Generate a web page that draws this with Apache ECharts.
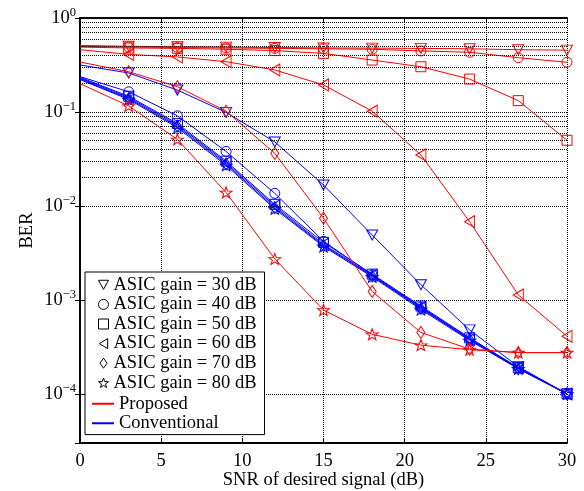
<!DOCTYPE html>
<html>
<head>
<meta charset="utf-8">
<script src="https://cdn.jsdelivr.net/npm/echarts@6/dist/echarts.min.js"></script>
<style>
  html, body { margin: 0; padding: 0; background: #fff; }
  #chart { width: 584px; height: 491px; }
</style>
</head>
<body>
<div id="chart"></div>
<script>
// SNR of the desired signal (dB)
const snr = [0, 3, 6, 9, 12, 15, 18, 21, 24, 27, 30];

const gainNames = [
  'ASIC gain = 30 dB', 'ASIC gain = 40 dB', 'ASIC gain = 50 dB',
  'ASIC gain = 60 dB', 'ASIC gain = 70 dB', 'ASIC gain = 80 dB'
];

// BER of the proposed scheme, one array per ASIC gain
const proposed30 = [0.51, 0.50, 0.495, 0.49, 0.485, 0.48, 0.478, 0.475, 0.47, 0.46, 0.455];
const proposed40 = [0.50, 0.49, 0.485, 0.48, 0.475, 0.47, 0.465, 0.446, 0.432, 0.378, 0.338];
const proposed50 = [0.49, 0.48, 0.475, 0.465, 0.45, 0.42, 0.357, 0.303, 0.224, 0.132, 0.050];
const proposed60 = [0.46, 0.41, 0.385, 0.343, 0.28, 0.194, 0.102, 0.0349, 0.0068, 0.00113, 0.00041];
const proposed70 = [0.34, 0.268, 0.186, 0.102, 0.0363, 0.0074, 0.00123, 0.00045, 0.0003, 0.000275, 0.000275];
const proposed80 = [0.20, 0.116, 0.051, 0.0139, 0.00273, 0.00078, 0.00043, 0.00033, 0.000295, 0.000275, 0.000275];

// BER of the conventional scheme, one array per ASIC gain
const conventional30 = [0.316, 0.26, 0.171, 0.099, 0.048, 0.0167, 0.0049, 0.00145, 0.00048, 0.000195, 0.0001];
const conventional40 = [0.238, 0.164, 0.091, 0.038, 0.0136, 0.0042, 0.00185, 0.00084, 0.00039, 0.00019, 0.0001];
const conventional50 = [0.234, 0.147, 0.0755, 0.0300, 0.0104, 0.0041, 0.00188, 0.00086, 0.000395, 0.00019, 0.0001];
const conventional60 = [0.229, 0.143, 0.073, 0.0290, 0.0100, 0.0039, 0.00183, 0.00083, 0.00038, 0.00019, 0.0001];
const conventional70 = [0.225, 0.139, 0.0705, 0.0280, 0.0096, 0.0038, 0.0018, 0.00081, 0.00038, 0.000185, 0.0001];
const conventional80 = [0.221, 0.136, 0.068, 0.0270, 0.0093, 0.0037, 0.00176, 0.00079, 0.00037, 0.000185, 0.0001];

const xTicks = [0, 5, 10, 15, 20, 25, 30];
const yDecades = [1e-4, 1e-3, 1e-2, 1e-1, 1];

const proposedSets = [proposed30, proposed40, proposed50, proposed60, proposed70, proposed80];
const conventionalSets = [conventional30, conventional40, conventional50, conventional60, conventional70, conventional80];

// marker shapes, one per ASIC gain
const STAR = 'path://M50,0L61.76,33.82L97.55,34.55L69.02,56.18L79.39,90.45L50,70L20.61,90.45L30.98,56.18L2.45,34.55L38.24,33.82Z';
const markers = [
  { symbol: 'path://M0,0L22,0L11,20Z', size: [11, 10] },   // down triangle
  { symbol: 'circle', size: 10 },
  { symbol: 'rect', size: 10 },
  { symbol: 'path://M0,12L20,0L20,24Z', size: [10, 12] },  // left triangle
  { symbol: 'diamond', size: [8, 12] },
  { symbol: STAR, size: [12, 11] }
];

const RED = '#ff0000';
const BLUE = '#0000ff';
const FONT = 'Liberation Serif';
const FS = 18.5;

function curve(name, values, color, m) {
  return {
    name: name,
    type: 'line',
    data: snr.map((x, i) => [x, values[i]]),
    symbol: (v, p) => (p.dataIndex === 0 ? 'none' : m.symbol),
    symbolSize: m.size,
    showAllSymbol: true,
    lineStyle: { color: color, width: 1 },
    itemStyle: { color: 'rgba(0,0,0,0)', borderColor: color, borderWidth: 1 },
    emphasis: { disabled: true },
    silent: true,
    z: 3
  };
}

const series = [];

// minor grid lines at 2..9 x 10^n
const minorLines = [];
for (let e = -5; e <= -1; e++) {
  for (let k = 2; k <= 9; k++) {
    const v = k * Math.pow(10, e);
    if (v > 3e-5 && v < 1) minorLines.push({ yAxis: v });
  }
}
series.push({
  type: 'line',
  data: [],
  silent: true,
  markLine: {
    silent: true,
    symbol: ['none', 'none'],
    label: { show: false },
    lineStyle: { color: '#000', width: 1, type: [1, 1] },
    emphasis: { disabled: true },
    data: minorLines
  },
  z: 1
});

conventionalSets.forEach((vals, i) => series.push(curve('c' + i, vals, BLUE, markers[i])));
proposedSets.forEach((vals, i) => series.push(curve('p' + i, vals, RED, markers[i])));

// legend-only series
gainNames.forEach((n, i) => series.push({
  name: n, type: 'line', data: [], symbol: markers[i].symbol,
  itemStyle: { color: 'rgba(0,0,0,0)', borderColor: '#000', borderWidth: 1 }
}));
series.push({ name: 'Proposed', type: 'line', data: [], itemStyle: { color: RED }, lineStyle: { color: RED } });
series.push({ name: 'Conventional', type: 'line', data: [], itemStyle: { color: BLUE }, lineStyle: { color: BLUE } });

const legendIcons = [
  'path://M0,0L22,0L11,20Z',
  'circle',
  'rect',
  'path://M0,12L20,0L20,24Z',
  'path://M5,0L10,7L5,14L0,7Z',
  STAR
];

function powLabel(v) {
  const e = Math.round(Math.log10(v));
  if (Math.abs(Math.log10(v) - e) > 1e-6) return '';
  return '{b|10}{s|' + (e < 0 ? '\u2212' + (-e) : e) + '}';
}

const axisLine = { show: true, lineStyle: { color: '#000', width: 2 } };
const tick = { show: true, inside: true, length: 5, lineStyle: { color: '#000', width: 1 } };
const dotted = { show: true, lineStyle: { color: '#000', width: 1, type: [1, 1] } };

const option = {
  backgroundColor: '#fff',
  animation: false,
  grid: { left: 80, right: 17, top: 18, bottom: 48, containLabel: false, outerBoundsMode: 'none' },
  xAxis: [{
    type: 'value', min: 0, max: 30, interval: 5,
    name: 'SNR of desired signal (dB)', nameLocation: 'middle', nameGap: 28,
    nameMoveOverlap: false,
    nameTextStyle: { fontFamily: FONT, fontSize: FS, color: '#000' },
    axisLine: axisLine, axisTick: tick,
    axisLabel: { fontFamily: FONT, fontSize: FS, color: '#000', margin: 9,
      formatter: v => (xTicks.indexOf(v) >= 0 ? String(v) : '') },
    splitLine: dotted
  }, {
    type: 'value', min: 0, max: 30, interval: 5, position: 'top',
    axisLine: axisLine, axisTick: tick, axisLabel: { show: false }, splitLine: { show: false }
  }],
  yAxis: [{
    type: 'log', logBase: 10, min: 3e-5, max: 1,
    name: 'BER', nameLocation: 'middle', nameGap: 43,
    nameMoveOverlap: false,
    nameTextStyle: { fontFamily: FONT, fontSize: FS, color: '#000' },
    axisLine: axisLine, axisTick: tick,
    axisLabel: {
      margin: 4,
      formatter: v => (yDecades.some(d => Math.abs(d - v) / d < 1e-6) ? powLabel(v) : ''),
      rich: {
        b: { fontFamily: FONT, fontSize: FS, color: '#000' },
        s: { fontFamily: FONT, fontSize: 12.5, color: '#000', padding: [0, 0, 11, 0] }
      }
    },
    splitLine: dotted
  }, {
    type: 'log', logBase: 10, min: 3e-5, max: 1, position: 'right',
    axisLine: axisLine, axisTick: tick, axisLabel: { show: false }, splitLine: { show: false }
  }],
  legend: [{
    orient: 'vertical', left: 85, top: 272,
    padding: [3, 8, 42, 13],
    itemGap: 0, itemWidth: 10, itemHeight: 10,
    backgroundColor: '#fff', borderColor: '#000', borderWidth: 1,
    selectedMode: false,
    textStyle: { fontFamily: FONT, fontSize: FS, color: '#000', lineHeight: 19.6 },
    data: gainNames.map((n, i) => ({
      name: n, icon: legendIcons[i],
      itemStyle: { color: 'rgba(0,0,0,0)', borderColor: '#000', borderWidth: 1 }
    })),
    z: 10
  }, {
    orient: 'vertical', left: 92, top: 394, padding: 0,
    itemGap: 0, itemWidth: 22, itemHeight: 2,
    selectedMode: false,
    textStyle: { fontFamily: FONT, fontSize: FS, color: '#000', lineHeight: 19.5 },
    data: [
      { name: 'Proposed', icon: 'rect', itemStyle: { color: RED } },
      { name: 'Conventional', icon: 'rect', itemStyle: { color: BLUE } }
    ],
    z: 11
  }],
  series: series
};

const chart = echarts.init(document.getElementById('chart'), null, { renderer: 'canvas' });
chart.setOption(option);
</script>
</body>
</html>
